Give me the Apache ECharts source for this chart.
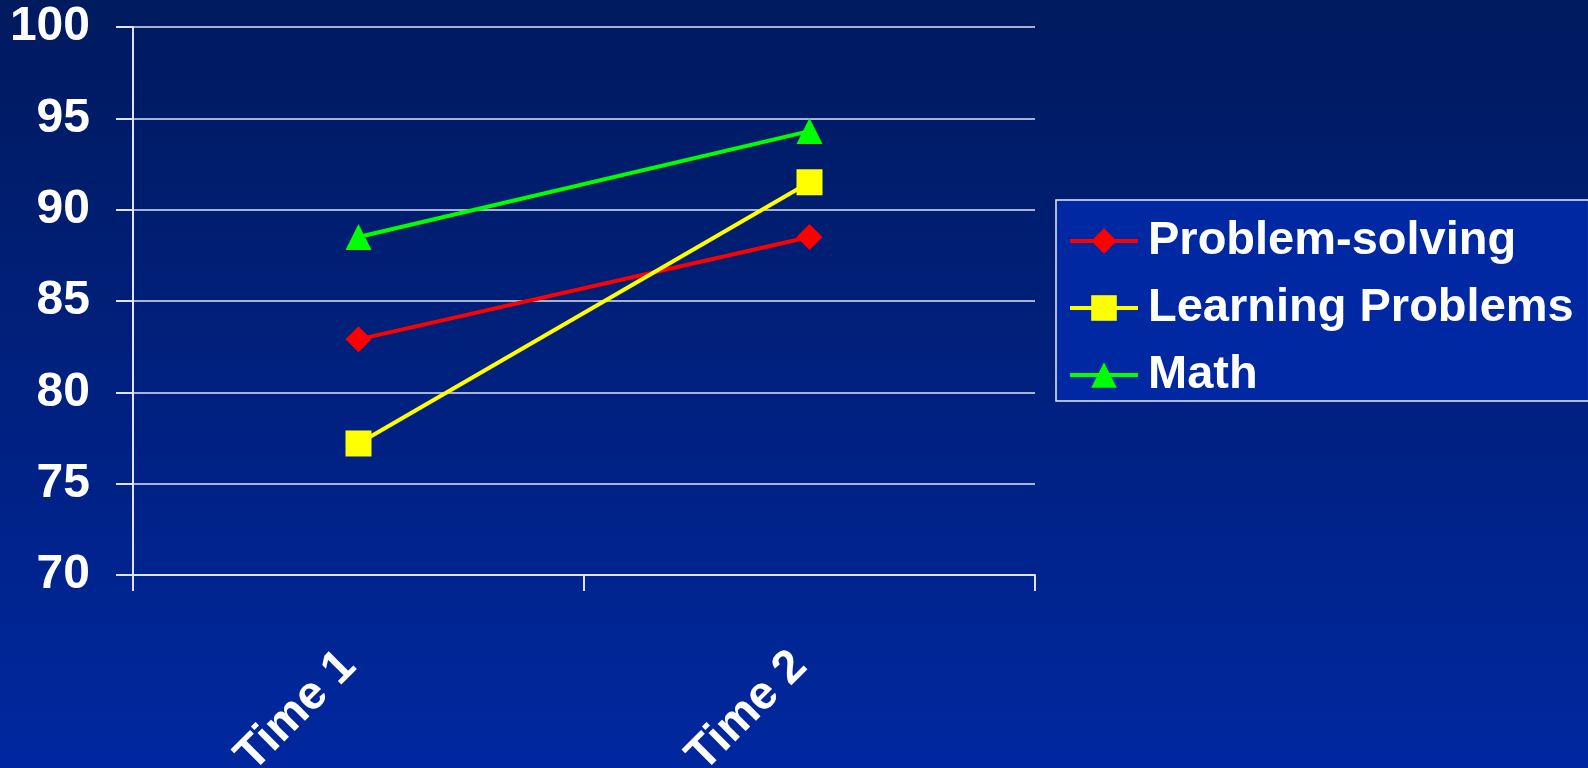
<!DOCTYPE html>
<html lang="en">
<head>
    <meta charset="UTF-8">
    <title>Scores</title>
    <script src="https://cdn.jsdelivr.net/npm/echarts@6/dist/echarts.min.js"></script>
    <style>
        html, body {
            margin: 0;
            padding: 0;
            width: 100%;
            height: 100%;
            overflow: hidden;
        }
        #chart {
            width: 1588px;
            height: 768px;
        }
    </style>
</head>
<body>
<div id="chart"></div>
<script>
    var categories = ['Time 1', 'Time 2'];
    var problemSolving = [82.9, 88.5];
    var learningProblems = [77.2, 91.5];
    var math = [88.5, 94.3];
    var yTicks = {min: 70, max: 100, step: 5};

    var font = 'Liberation Sans, Arial, sans-serif';
    var white = '#ffffff';
    var gridColor = '#dfe3f5';

    var myChart = echarts.init(document.getElementById('chart'));

    function lineSeries(name, data, color, symbol) {
        return {
            name: name,
            type: 'line',
            data: data,
            symbol: symbol,
            symbolSize: 26,
            showSymbol: true,
            animation: false,
            lineStyle: {color: color, width: 4},
            itemStyle: {color: color}
        };
    }

    var option = {
        backgroundColor: new echarts.graphic.LinearGradient(0, 0, 0, 1, [
            {offset: 0, color: '#001a5e'},
            {offset: 1, color: '#00279f'}
        ]),
        grid: {
            left: 133,
            right: 553,
            top: 27,
            bottom: 193,
            containLabel: false,
            outerBoundsMode: 'none'
        },
        legend: {
            orient: 'vertical',
            left: 1056,
            top: 200,
            padding: [16, 15, 1, 12],
            itemWidth: 68,
            itemHeight: 32,
            itemGap: 17,
            backgroundColor: '#0028a2',
            borderColor: '#e8ecf8',
            borderWidth: 1.5,
            lineStyle: {width: 4},
            textStyle: {
                color: white,
                fontSize: 47,
                fontWeight: 'bold',
                fontFamily: font,
                lineHeight: 50,
                padding: [0, 0, 0, 5]
            },
            data: ['Problem-solving', 'Learning Problems', 'Math']
        },
        xAxis: {
            type: 'category',
            data: categories,
            boundaryGap: true,
            axisLine: {lineStyle: {color: gridColor, width: 2}},
            axisTick: {show: true, length: 16, lineStyle: {color: gridColor, width: 2}},
            axisLabel: {
                rotate: 45,
                margin: 74,
                padding: [0, 14, 0, 0],
                color: white,
                fontSize: 47,
                fontWeight: 'bold',
                fontFamily: font
            }
        },
        yAxis: {
            type: 'value',
            min: yTicks.min,
            max: yTicks.max,
            interval: yTicks.step,
            axisLine: {show: true, lineStyle: {color: gridColor, width: 2}},
            axisTick: {show: true, length: 17, lineStyle: {color: gridColor, width: 2}},
            splitLine: {lineStyle: {color: gridColor, width: 1.5}},
            axisLabel: {
                margin: 43,
                color: white,
                fontSize: 48,
                fontWeight: 'bold',
                fontFamily: font
            }
        },
        series: [
            lineSeries('Problem-solving', problemSolving, '#ff0000', 'diamond'),
            lineSeries('Learning Problems', learningProblems, '#ffff00', 'rect'),
            lineSeries('Math', math, '#00ff00', 'triangle')
        ]
    };

    myChart.setOption(option);
</script>
</body>
</html>
